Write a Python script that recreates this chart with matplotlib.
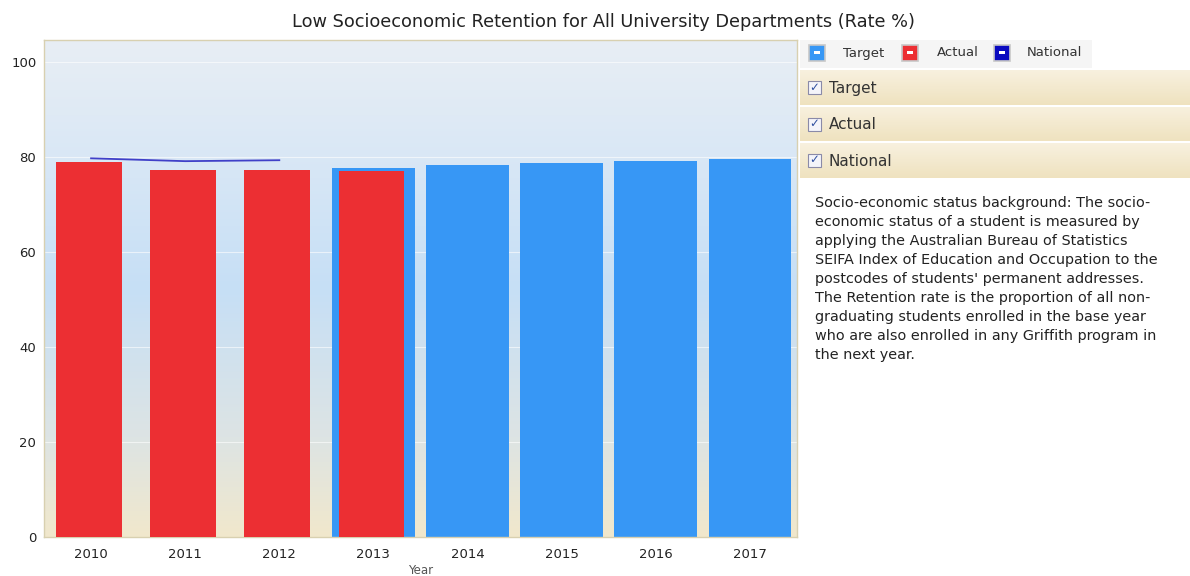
import numpy as np
import matplotlib
matplotlib.use("Agg")
import matplotlib.pyplot as plt
from matplotlib.colors import LinearSegmentedColormap
from matplotlib.patches import Rectangle

years = ["2010", "2011", "2012", "2013", "2014", "2015", "2016", "2017"]
target = [None, None, None, 77.6, 78.3, 78.7, 79.1, 79.5]
actual = [78.9, 77.2, 77.2, 77.0]
national = [79.7, 79.1, 79.3]

desc = ("Socio-economic status background: The socio-\n"
        "economic status of a student is measured by\n"
        "applying the Australian Bureau of Statistics\n"
        "SEIFA Index of Education and Occupation to the\n"
        "postcodes of students' permanent addresses.\n"
        "The Retention rate is the proportion of all non-\n"
        "graduating students enrolled in the base year\n"
        "who are also enrolled in any Griffith program in\n"
        "the next year.")

W, H = 1190, 576
fig = plt.figure(figsize=(W / 100, H / 100), dpi=100)
fig.patch.set_facecolor("white")

ax = fig.add_axes([44 / W, 1 - 537 / H, 753 / W, 497 / H])
ymax = 104.6
x = np.arange(len(years))

# background gradient of the plot area
bg = LinearSegmentedColormap.from_list(
    "bg", [(0, "#f1e8cc"), (0.2, "#dde4e4"), (0.5, "#c6dff6"), (0.85, "#dfeaf5"), (1, "#e8eef4")])
grad = np.linspace(0, 1, 256).reshape(-1, 1)
ax.imshow(grad, cmap=bg, origin="lower", aspect="auto",
          extent=[-0.5, len(years) - 0.5, 0, ymax], zorder=0)

for yv in [20, 40, 60, 80, 100]:
    ax.axhline(yv, color="white", lw=0.8, alpha=0.6, zorder=1)

tx = [i for i, v in enumerate(target) if v is not None]
tv = [v for v in target if v is not None]
ax.bar(tx, tv, width=0.88, color="#3797f5", zorder=2)
ax.bar(np.arange(len(actual)) - 0.02, actual, width=0.7, color="#ec2f33", zorder=3)
ax.plot(np.arange(len(national)), national, color="#4040c8", lw=1.3, zorder=4)

ax.set_xlim(-0.5, len(years) - 0.5)
ax.set_ylim(0, ymax)
ax.set_xticks(x)
ax.set_xticklabels(years)
ax.set_yticks([0, 20, 40, 60, 80, 100])
ax.tick_params(axis="x", length=0, labelsize=9.5, colors="#222222", pad=8)
ax.tick_params(axis="y", length=0, labelsize=9.5, colors="#222222", pad=5.5)
ax.set_xlabel("Year", fontsize=8.5, color="#555555", labelpad=2)
for s in ax.spines.values():
    s.set_color("#d8d0b0")
    s.set_linewidth(1)

fig.text(604 / W, 1 - 22 / H, "Low Socioeconomic Retention for All University Departments (Rate %)",
         ha="center", va="center", fontsize=12.8, color="#222222")

# legend row
fig.add_artist(Rectangle((800 / W, 1 - 68 / H), 292 / W, 28 / H, transform=fig.transFigure,
                         facecolor="#f5f5f5", edgecolor="none"))
leg = [("Target", "#3797f5", 809, 843), ("Actual", "#ec2f33", 902, 937), ("National", "#0a0ac0", 994, 1027)]
for name, col, sx, tx0 in leg:
    fig.add_artist(Rectangle((sx / W, 1 - 61 / H), 16 / W, 16 / H, transform=fig.transFigure,
                             facecolor=col, edgecolor="#c8c8c8", lw=1.2))
    fig.add_artist(Rectangle(((sx + 5) / W, 1 - 54 / H), 6 / W, 2.5 / H, transform=fig.transFigure,
                             facecolor="white", edgecolor="none"))
    fig.text(tx0 / W, 1 - 53 / H, name, ha="left", va="center", fontsize=9.5, color="#333333")

# collapsible series panels
panel = LinearSegmentedColormap.from_list("panel", ["#efe2bf", "#f8f1df"])
for i, name in enumerate(["Target", "Actual", "National"]):
    top = 70 + i * 36.5
    pax = fig.add_axes([800 / W, 1 - (top + 35) / H, 390 / W, 35 / H])
    pax.imshow(grad, cmap=panel, origin="lower", aspect="auto", extent=[0, 1, 0, 1])
    pax.set_axis_off()
    fig.add_artist(Rectangle((808 / W, 1 - (top + 24) / H), 13 / W, 13 / H, transform=fig.transFigure,
                             facecolor="#f4f4fa", edgecolor="#8a8aa8", lw=0.8))
    fig.text(814.5 / W, 1 - (top + 17) / H, "\u2713", ha="center", va="center", fontsize=8.5,
             color="#3050a0", fontweight="bold")
    fig.text(829 / W, 1 - (top + 18) / H, name, ha="left", va="center", fontsize=11, color="#333333")

fig.text(815 / W, 1 - 196 / H, desc, ha="left", va="top", fontsize=10.4, color="#222222", linespacing=1.46)

fig.savefig("out.png", dpi=100)
